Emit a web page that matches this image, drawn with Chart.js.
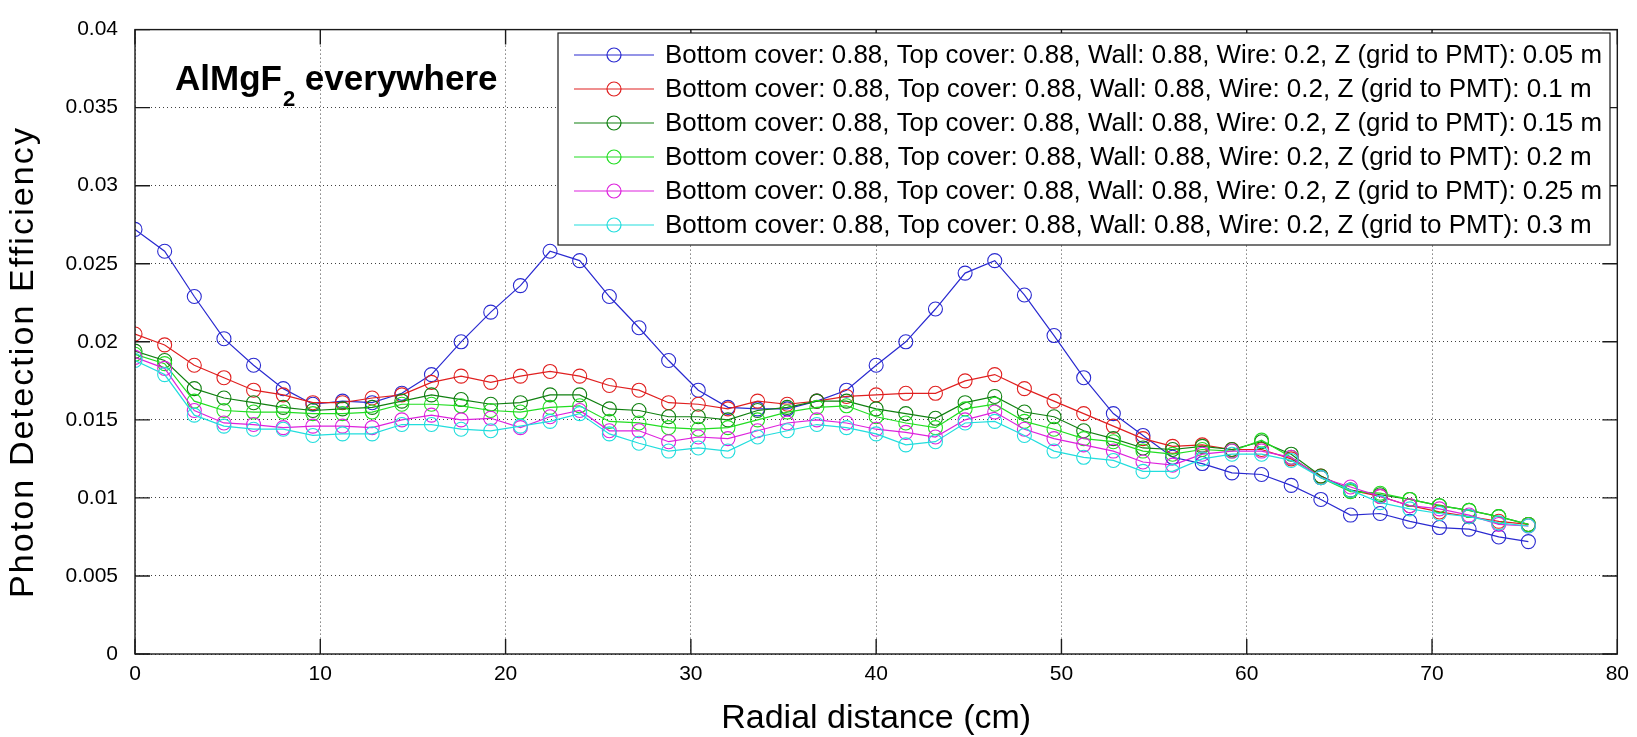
<!DOCTYPE html>
<html>
<head>
<meta charset="utf-8">
<title>Photon Detection Efficiency vs Radial distance</title>
<script src="https://cdn.jsdelivr.net/npm/chart.js@4.4.1/dist/chart.umd.min.js"></script>
<style>
  html, body { margin: 0; padding: 0; background: #fff; }
  #wrap { width: 1637px; height: 737px; }
</style>
</head>
<body>
<div id="wrap"><canvas id="chart" width="1637" height="737"></canvas></div>
<script>
// ============================================
// Photon detection efficiency — AlMgF2 everywhere
// ============================================

// ===== DATA =====
const radialCm = [
  0, 1.6, 3.2, 4.8, 6.4, 8, 9.6, 11.2, 12.8, 14.4, 16, 17.6,
  19.2, 20.8, 22.4, 24, 25.6, 27.2, 28.8, 30.4, 32, 33.6, 35.2, 36.8,
  38.4, 40, 41.6, 43.2, 44.8, 46.4, 48, 49.6, 51.2, 52.8, 54.4, 56,
  57.6, 59.2, 60.8, 62.4, 64, 65.6, 67.2, 68.8, 70.4, 72, 73.6, 75.2
];

const effZ005 = [
  0.0272, 0.0258, 0.0229, 0.0202, 0.0185, 0.0170, 0.0160, 0.0162,
  0.0161, 0.0167, 0.0179, 0.0200, 0.0219, 0.0236, 0.0258, 0.0252,
  0.0229, 0.0209, 0.0188, 0.0169, 0.0158, 0.0157, 0.0157, 0.0162,
  0.0169, 0.0185, 0.0200, 0.0221, 0.0244, 0.0252, 0.0230, 0.0204,
  0.0177, 0.0154, 0.0140, 0.0126, 0.0122, 0.0116, 0.0115, 0.0108,
  0.0099, 0.0089, 0.0090, 0.0085, 0.0081, 0.0080, 0.0075, 0.0072
];
const effZ010 = [
  0.0205, 0.0198, 0.0185, 0.0177, 0.0169, 0.0166, 0.0161, 0.0161,
  0.0164, 0.0166, 0.0174, 0.0178, 0.0174, 0.0178, 0.0181, 0.0178,
  0.0172, 0.0169, 0.0161, 0.0160, 0.0157, 0.0162, 0.0160, 0.0162,
  0.0165, 0.0166, 0.0167, 0.0167, 0.0175, 0.0179, 0.0170, 0.0162,
  0.0154, 0.0146, 0.0138, 0.0133, 0.0134, 0.0131, 0.0131, 0.0125,
  0.0114, 0.0105, 0.0101, 0.0095, 0.0091, 0.0088, 0.0085, 0.0083
];
const effZ015 = [
  0.0194, 0.0188, 0.0170, 0.0164, 0.0161, 0.0158, 0.0156, 0.0157,
  0.0158, 0.0162, 0.0166, 0.0163, 0.0160, 0.0161, 0.0166, 0.0166,
  0.0157, 0.0156, 0.0152, 0.0152, 0.0150, 0.0156, 0.0158, 0.0162,
  0.0162, 0.0157, 0.0154, 0.0151, 0.0161, 0.0165, 0.0155, 0.0152,
  0.0143, 0.0138, 0.0132, 0.0131, 0.0133, 0.0131, 0.0136, 0.0128,
  0.0114, 0.0105, 0.0102, 0.0099, 0.0095, 0.0092, 0.0088, 0.0083
];
const effZ020 = [
  0.0192, 0.0186, 0.0162, 0.0156, 0.0155, 0.0155, 0.0154, 0.0154,
  0.0155, 0.0160, 0.0160, 0.0159, 0.0156, 0.0155, 0.0158, 0.0159,
  0.0149, 0.0148, 0.0145, 0.0144, 0.0145, 0.0150, 0.0155, 0.0158,
  0.0159, 0.0152, 0.0148, 0.0145, 0.0157, 0.0160, 0.0149, 0.0144,
  0.0138, 0.0136, 0.0130, 0.0128, 0.0131, 0.0130, 0.0137, 0.0126,
  0.0113, 0.0104, 0.0103, 0.0099, 0.0095, 0.0092, 0.0088, 0.0083
];
const effZ025 = [
  0.0190, 0.0183, 0.0156, 0.0148, 0.0147, 0.0145, 0.0146, 0.0146,
  0.0145, 0.0150, 0.0153, 0.0150, 0.0151, 0.0145, 0.0152, 0.0156,
  0.0143, 0.0143, 0.0136, 0.0139, 0.0138, 0.0143, 0.0148, 0.0150,
  0.0148, 0.0144, 0.0142, 0.0139, 0.0150, 0.0155, 0.0144, 0.0138,
  0.0134, 0.0130, 0.0123, 0.0121, 0.0128, 0.0130, 0.0130, 0.0126,
  0.0113, 0.0107, 0.0101, 0.0095, 0.0093, 0.0089, 0.0083, 0.0082
];
const effZ030 = [
  0.0188, 0.0179, 0.0153, 0.0146, 0.0144, 0.0144, 0.0140, 0.0141,
  0.0141, 0.0147, 0.0147, 0.0144, 0.0143, 0.0146, 0.0149, 0.0154,
  0.0141, 0.0135, 0.0130, 0.0132, 0.0130, 0.0139, 0.0143, 0.0147,
  0.0145, 0.0141, 0.0134, 0.0136, 0.0148, 0.0149, 0.0140, 0.0130,
  0.0126, 0.0124, 0.0117, 0.0117, 0.0125, 0.0128, 0.0128, 0.0124,
  0.0113, 0.0105, 0.0097, 0.0093, 0.0090, 0.0088, 0.0084, 0.0082
];

const seriesLabels = [
  'Bottom cover: 0.88, Top cover: 0.88, Wall: 0.88, Wire: 0.2, Z (grid to PMT): 0.05 m',
  'Bottom cover: 0.88, Top cover: 0.88, Wall: 0.88, Wire: 0.2, Z (grid to PMT): 0.1 m',
  'Bottom cover: 0.88, Top cover: 0.88, Wall: 0.88, Wire: 0.2, Z (grid to PMT): 0.15 m',
  'Bottom cover: 0.88, Top cover: 0.88, Wall: 0.88, Wire: 0.2, Z (grid to PMT): 0.2 m',
  'Bottom cover: 0.88, Top cover: 0.88, Wall: 0.88, Wire: 0.2, Z (grid to PMT): 0.25 m',
  'Bottom cover: 0.88, Top cover: 0.88, Wall: 0.88, Wire: 0.2, Z (grid to PMT): 0.3 m'
];
const seriesValues = [effZ005, effZ010, effZ015, effZ020, effZ025, effZ030];
const seriesColors = ['#2a2ad0', '#e02020', '#118011', '#22dd22', '#dd22dd', '#22dddd'];

const xTicks = [0, 10, 20, 30, 40, 50, 60, 70, 80];
const xTickLabels = ['0', '10', '20', '30', '40', '50', '60', '70', '80'];
const yTicks = [0, 0.005, 0.01, 0.015, 0.02, 0.025, 0.03, 0.035, 0.04];
const yTickLabels = ['0', '0.005', '0.01', '0.015', '0.02', '0.025', '0.03', '0.035', '0.04'];

const FONT = '"Liberation Sans", Arial, Helvetica, sans-serif';

// ===== PLUGINS =====
// MATLAB style box with inward ticks on all four sides
const axesBox = {
  id: 'axesBox',
  afterDatasetsDraw(chart) {
    const { ctx, chartArea: a, scales } = chart;
    const len = 15;
    ctx.save();
    ctx.strokeStyle = '#1a1a1a';
    ctx.lineWidth = 1.4;
    ctx.beginPath();
    xTicks.forEach(v => {
      const px = scales.x.getPixelForValue(v);
      ctx.moveTo(px, a.bottom); ctx.lineTo(px, a.bottom - len);
      ctx.moveTo(px, a.top); ctx.lineTo(px, a.top + len);
    });
    yTicks.forEach(v => {
      const py = scales.y.getPixelForValue(v);
      ctx.moveTo(a.left, py); ctx.lineTo(a.left + len, py);
      ctx.moveTo(a.right, py); ctx.lineTo(a.right - len, py);
    });
    ctx.stroke();
    ctx.strokeRect(a.left, a.top, a.right - a.left, a.bottom - a.top);
    ctx.restore();
  }
};

// Legend box drawn inside the axes, the annotation and the y label
const insideLegend = {
  id: 'insideLegend',
  afterDatasetsDraw(chart) {
    const { ctx } = chart;
    const box = { left: 558, top: 33, right: 1610, bottom: 245 };
    ctx.save();
    ctx.fillStyle = '#fff';
    ctx.fillRect(box.left, box.top, box.right - box.left, box.bottom - box.top);
    ctx.strokeStyle = '#1a1a1a';
    ctx.lineWidth = 1.2;
    ctx.strokeRect(box.left, box.top, box.right - box.left, box.bottom - box.top);

    ctx.font = `26px ${FONT}`;
    ctx.textBaseline = 'middle';
    ctx.textAlign = 'left';
    seriesLabels.forEach((label, i) => {
      const y = 55 + i * 34;
      ctx.strokeStyle = seriesColors[i];
      ctx.lineWidth = 1.2;
      ctx.beginPath();
      ctx.moveTo(574, y); ctx.lineTo(654, y);
      ctx.stroke();
      ctx.beginPath();
      ctx.arc(614, y, 7, 0, Math.PI * 2);
      ctx.stroke();
      ctx.fillStyle = '#000';
      ctx.fillText(label, 665, y + 1, 937);
    });

    // AlMgF2 everywhere
    ctx.fillStyle = '#000';
    ctx.textBaseline = 'alphabetic';
    ctx.font = `bold 35px ${FONT}`;
    ctx.fillText('AlMgF', 175, 90);
    const w1 = ctx.measureText('AlMgF').width;
    ctx.font = `bold 22px ${FONT}`;
    ctx.fillText('2', 175 + w1 + 1, 106);
    const w2 = ctx.measureText('2').width;
    ctx.font = `bold 35px ${FONT}`;
    ctx.fillText(' everywhere', 175 + w1 + 1 + w2, 90);

    // y label, spread out like the MATLAB rendering
    const yLabel = 'Photon Detection Efficiency';
    ctx.font = `34px ${FONT}`;
    const natural = ctx.measureText(yLabel).width;
    ctx.letterSpacing = `${Math.max(0, (470 - natural) / (yLabel.length - 1))}px`;
    const w = ctx.measureText(yLabel).width;
    ctx.translate(24, 362);
    ctx.rotate(-Math.PI / 2);
    ctx.textBaseline = 'middle';
    ctx.fillText(yLabel, -w / 2, 0);
    ctx.restore();
  }
};

// ===== CHART =====
const gridStyle = { color: 'rgba(0,0,0,0.75)', lineWidth: 1, drawTicks: false };

new Chart(document.getElementById('chart'), {
  type: 'line',
  data: {
    datasets: seriesValues.map((vals, i) => ({
      label: seriesLabels[i],
      data: vals.map((v, j) => ({ x: radialCm[j], y: v })),
      borderColor: seriesColors[i],
      borderWidth: 1.2,
      pointRadius: 7,
      pointBorderWidth: 1.1,
      pointBorderColor: seriesColors[i],
      pointBackgroundColor: 'rgba(0,0,0,0)',
      tension: 0,
      order: seriesValues.length - i // first series drawn underneath, like MATLAB
    }))
  },
  options: {
    responsive: false,
    devicePixelRatio: 1,
    animation: false,
    events: [],
    layout: { padding: { top: 20, right: 16, bottom: 0, left: 0 } },
    plugins: {
      legend: { display: false },
      tooltip: { enabled: false }
    },
    scales: {
      x: {
        type: 'linear',
        min: 0,
        max: 80,
        afterBuildTicks: s => { s.ticks = xTicks.map(v => ({ value: v })); },
        afterFit: s => { s.height = 83; },
        ticks: {
          autoSkip: false,
          maxRotation: 0,
          padding: 8,
          color: '#000',
          font: { family: FONT, size: 21 },
          callback: (v, i) => xTickLabels[i]
        },
        grid: gridStyle,
        border: { display: false, dash: [1, 3] },
        title: {
          display: true,
          text: 'Radial distance (cm)',
          color: '#000',
          font: { family: FONT, size: 34, lineHeight: 1 },
          padding: { top: 0, bottom: 1 }
        }
      },
      y: {
        min: 0,
        max: 0.04,
        afterBuildTicks: s => { s.ticks = yTicks.map(v => ({ value: v })); },
        afterFit: s => { s.width = 135; },
        ticks: {
          autoSkip: false,
          padding: 17,
          color: '#000',
          font: { family: FONT, size: 21 },
          callback: (v, i) => yTickLabels[i]
        },
        grid: gridStyle,
        border: { display: false, dash: [1, 3] }
      }
    }
  },
  plugins: [axesBox, insideLegend]
});
</script>
</body>
</html>
